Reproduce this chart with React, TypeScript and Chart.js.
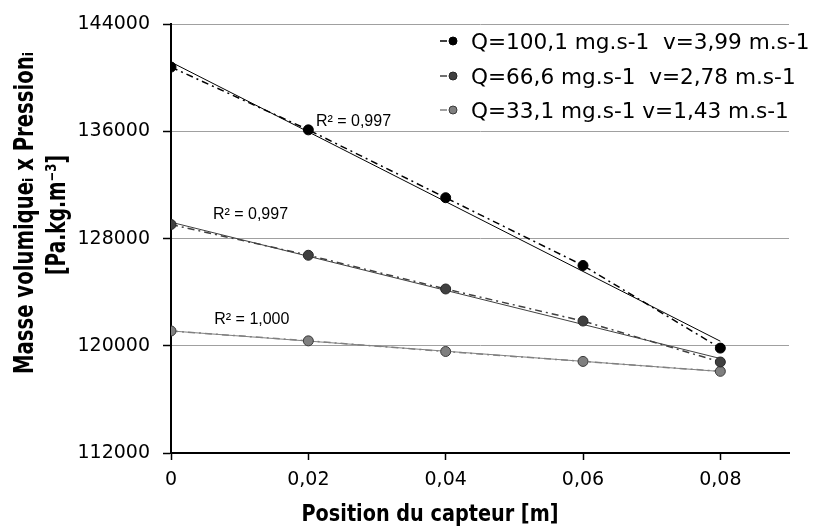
import React, { useEffect, useRef } from 'react';
import { Chart, registerables } from 'chart.js';

Chart.register(...registerables);

// ---- data ----
const positions = [0, 0.02, 0.04, 0.06, 0.08];
const seriesHigh = [140815, 136126, 131060, 126000, 119831];
const seriesMid = [129060, 126764, 124246, 121853, 118794];
const seriesLow = [121112, 120372, 119579, 118838, 118097];
const seriesLabels = [
  'Q=100,1 mg.s-1  v=3,99 m.s-1',
  'Q=66,6 mg.s-1  v=2,78 m.s-1',
  'Q=33,1 mg.s-1 v=1,43 m.s-1',
];
const r2Labels = ['R² = 0,997', 'R² = 0,997', 'R² = 1,000'];
const xTicks = [0, 0.02, 0.04, 0.06, 0.08];
const yTicks = [112000, 120000, 128000, 136000, 144000];
const xTitle = 'Position du capteur [m]';
const yTitle = ['Masse volumiqueᵢ x Pressionᵢ', '[Pa.kg.m⁻³]'];

// ---- styles ----
const pointFill = ['#000000', '#404040', '#7f7f7f'];
const pointBorder = ['#000000', '#262626', '#3a3a3a'];
const lineColor = ['#000000', '#404040', '#808080'];

function linearFit(xs: number[], ys: number[]) {
  const n = xs.length;
  const mx = xs.reduce((a, b) => a + b, 0) / n;
  const my = ys.reduce((a, b) => a + b, 0) / n;
  let sxy = 0, sxx = 0;
  for (let i = 0; i < n; i++) {
    sxy += (xs[i] - mx) * (ys[i] - my);
    sxx += (xs[i] - mx) * (xs[i] - mx);
  }
  const m = sxy / sxx;
  return { m, b: my - m * mx };
}

function trend(ys: number[]) {
  const { m, b } = linearFit(positions, ys);
  const x0 = positions[0];
  const x1 = positions[positions.length - 1];
  return [{ x: x0, y: b + m * x0 }, { x: x1, y: b + m * x1 }];
}

const allSeries = [seriesHigh, seriesMid, seriesLow];

const fmtX = (v: number) => (v === 0 ? '0' : v.toFixed(2).replace('.', ','));

const overlayPlugin = {
  id: 'overlay',
  afterDraw(chart: any) {
    const ctx = chart.ctx;
    const xs = chart.scales.x;
    const ys = chart.scales.y;

    // R² labels (anchored in data coordinates)
    const r2Anchors = [
      [0.0211, 136719],
      [0.0061, 129778],
      [0.0063, 121926],
    ];
    ctx.save();
    ctx.fillStyle = '#000';
    ctx.font = '16px "Liberation Sans", Arial, sans-serif';
    ctx.textAlign = 'left';
    ctx.textBaseline = 'middle';
    r2Labels.forEach((t, i) => {
      ctx.fillText(t, xs.getPixelForValue(r2Anchors[i][0]), ys.getPixelForValue(r2Anchors[i][1]));
    });
    ctx.restore();

    // legend
    const rowMid = [41, 76, 110];
    ctx.save();
    ctx.font = '21.6px "DejaVu Sans", sans-serif';
    ctx.textAlign = 'left';
    ctx.textBaseline = 'alphabetic';
    seriesLabels.forEach((t, i) => {
      const cy = rowMid[i];
      ctx.strokeStyle = lineColor[i];
      ctx.lineWidth = 1.5;
      ctx.beginPath();
      ctx.moveTo(440, cy);
      ctx.lineTo(447, cy);
      ctx.stroke();
      ctx.beginPath();
      ctx.arc(453, cy, 4, 0, Math.PI * 2);
      ctx.fillStyle = pointFill[i];
      ctx.fill();
      ctx.lineWidth = 1;
      ctx.strokeStyle = pointBorder[i];
      ctx.stroke();
      ctx.fillStyle = '#000';
      ctx.fillText(t, 471, cy + 8);
    });
    ctx.restore();

    // axis titles (condensed bold)
    const drawFit = (text: string, x: number, y: number, rot: number, width: number, size: number) => {
      ctx.save();
      ctx.font = `bold ${size}px "DejaVu Sans", sans-serif`;
      ctx.fillStyle = '#000';
      ctx.textAlign = 'center';
      ctx.textBaseline = 'alphabetic';
      ctx.translate(x, y);
      ctx.rotate(rot);
      const w = ctx.measureText(text).width;
      ctx.scale(width / w, 1);
      ctx.fillText(text, 0, 0);
      ctx.restore();
    };
    drawFit(xTitle, 430, 521, 0, 257, 23);
    drawFit(yTitle[0], 33, 213, -Math.PI / 2, 322, 26);
    drawFit(yTitle[1], 65, 215, -Math.PI / 2, 120, 26);
  },
};

export default function App() {
  const canvasRef = useRef<HTMLCanvasElement | null>(null);

  useEffect(() => {
    if (!canvasRef.current) return;
    const dataDatasets = allSeries.map((ys, i) => ({
      label: seriesLabels[i],
      data: positions.map((x, j) => ({ x, y: ys[j] })),
      borderColor: lineColor[i],
      borderWidth: 1.5,
      borderDash: [7, 4, 2, 4],
      pointRadius: 5,
      pointBackgroundColor: pointFill[i],
      pointBorderColor: pointBorder[i],
      pointBorderWidth: 1,
      showLine: true,
      order: 1,
    }));
    const trendDatasets = allSeries.map((ys, i) => ({
      label: 'trend' + i,
      data: trend(ys),
      borderColor: lineColor[i],
      borderWidth: 1,
      pointRadius: 0,
      showLine: true,
      order: 2,
    }));

    const chart = new Chart(canvasRef.current, {
      type: 'scatter',
      data: { datasets: [...trendDatasets, ...dataDatasets] as any },
      options: {
        animation: false,
        responsive: true,
        maintainAspectRatio: false,
        layout: { padding: { top: 21, right: 24, left: 0, bottom: 0 } },
        plugins: { legend: { display: false }, tooltip: { enabled: false } },
        scales: {
          x: {
            type: 'linear',
            min: 0,
            max: 0.09,
            afterBuildTicks: (s: any) => {
              s.ticks = xTicks.map((v) => ({ value: v }));
            },
            afterFit: (s: any) => {
              s.height = 77;
            },
            grid: {
              drawOnChartArea: false,
              drawTicks: true,
              tickLength: 7,
              tickColor: '#000',
              tickWidth: 1.5,
            },
            border: { color: '#000', width: 2 },
            ticks: {
              font: { family: '"DejaVu Sans", sans-serif', size: 19 },
              color: '#000',
              padding: 9,
              maxRotation: 0,
              autoSkip: false,
              callback: (v: any) => fmtX(Number(v)),
            },
          },
          y: {
            type: 'linear',
            min: 112000,
            max: 144000,
            afterBuildTicks: (s: any) => {
              s.ticks = yTicks.map((v) => ({ value: v }));
            },
            afterFit: (s: any) => {
              s.width = 171;
            },
            grid: {
              color: (c: any) => (c.tick && c.tick.value === 112000 ? 'rgba(0,0,0,0)' : '#a0a0a0'),
              lineWidth: 1,
              drawTicks: true,
              tickLength: 8,
              tickColor: '#000',
              tickWidth: 1.5,
            },
            border: { color: '#000', width: 2 },
            ticks: {
              font: { family: '"DejaVu Sans", sans-serif', size: 19 },
              color: '#000',
              padding: 13,
              callback: (v: any) => String(v),
            },
          },
        },
      } as any,
      plugins: [overlayPlugin],
    });
    return () => chart.destroy();
  }, []);

  return (
    <div style={{ position: 'fixed', left: 0, top: 0, width: 813, height: 530, background: '#fff' }}>
      <canvas ref={canvasRef} />
    </div>
  );
}
